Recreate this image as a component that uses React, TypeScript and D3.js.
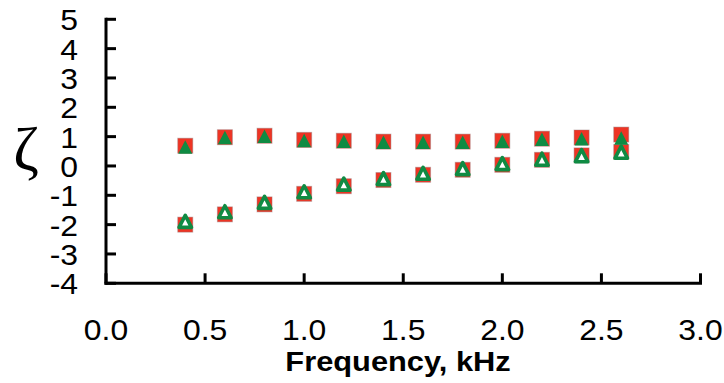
import React from "react";
import * as d3 from "d3";

const frequencies = [0.4, 0.6, 0.8, 1.0, 1.2, 1.4, 1.6, 1.8, 2.0, 2.2, 2.4, 2.6];
const upperSquares = [0.69, 0.98, 1.03, 0.89, 0.86, 0.83, 0.83, 0.83, 0.86, 0.93, 0.97, 1.07];
const upperTriangles = [0.65, 0.97, 1.01, 0.87, 0.84, 0.81, 0.81, 0.81, 0.84, 0.91, 0.93, 0.95];
const lowerSquares = [-2.0, -1.65, -1.31, -0.95, -0.69, -0.48, -0.3, -0.13, 0.04, 0.21, 0.36, 0.48];
const lowerTriangles = [-1.89, -1.56, -1.24, -0.88, -0.62, -0.43, -0.25, -0.09, 0.08, 0.23, 0.35, 0.47];
const xTicks = [0, 0.5, 1.0, 1.5, 2.0, 2.5, 3.0];
const yTicks = [5, 4, 3, 2, 1, 0, -1, -2, -3, -4];

const W = 724;
const H = 383;
const RED = "#EE3424";
const GREEN = "#0F8B43";
const FONT = "'Liberation Sans', Arial, sans-serif";
const SX = 1.1;

export default function App() {
  const x = d3.scaleLinear().domain([0, 3]).range([106, 700.5]);
  const y = d3.scaleLinear().domain([-4, 5]).range([283.3, 19.3]);

  const tri = (cx: number, cy: number, hw: number, h: number) => {
    const p = d3.path();
    p.moveTo(cx, cy - h / 2);
    p.lineTo(cx + hw, cy + h / 2);
    p.lineTo(cx - hw, cy + h / 2);
    p.closePath();
    return p.toString();
  };

  const sq = 15;

  return (
    <div style={{ position: "fixed", left: 0, top: 0, width: W, height: H, background: "#fff" }}>
      <svg width={W} height={H} style={{ display: "block" }}>
        {/* axes */}
        <line x1={x(0)} x2={x(0)} y1={y(5) - 1.5} y2={y(-4) + 1.5} stroke="#000" strokeWidth={3} />
        <line x1={x(0) - 1.5} x2={x(3) + 1.5} y1={y(-4)} y2={y(-4)} stroke="#000" strokeWidth={3} />
        {yTicks.map((t) => (
          <g key={"yt" + t}>
            <line x1={x(0)} x2={x(0) + 10} y1={y(t)} y2={y(t)} stroke="#000" strokeWidth={3} />
            <text
              transform={`translate(78,${y(t) + 11}) scale(${SX},1)`}
              textAnchor="end"
              fontFamily={FONT}
              fontSize={29}
              fill="#000"
            >
              {t}
            </text>
          </g>
        ))}
        {xTicks.map((t) => (
          <g key={"xt" + t}>
            <line x1={x(t)} x2={x(t)} y1={y(-4)} y2={y(-4) - 10} stroke="#000" strokeWidth={3} />
            <text
              transform={`translate(${x(t)},340) scale(${SX},1)`}
              textAnchor="middle"
              fontFamily={FONT}
              fontSize={29}
              fill="#000"
            >
              {t.toFixed(1)}
            </text>
          </g>
        ))}
        <text
          transform={`translate(398,371) scale(1.1,1)`}
          textAnchor="middle"
          fontFamily={FONT}
          fontWeight="bold"
          fontSize={28}
          fill="#000"
        >
          Frequency, kHz
        </text>
        <text
          transform="translate(26,170)"
          textAnchor="middle"
          fontFamily="'Liberation Serif', 'DejaVu Serif', serif"
          fontSize={62}
          fill="#000"
        >
          ζ
        </text>

        {/* squares */}
        {frequencies.map((f, i) => (
          <rect
            key={"us" + i}
            x={x(f) - sq / 2}
            y={y(upperSquares[i]) - sq / 2}
            width={sq}
            height={sq}
            fill={RED}
            stroke="rgba(150,120,120,0.45)"
            strokeWidth={1}
          />
        ))}
        {frequencies.map((f, i) => (
          <rect
            key={"ls" + i}
            x={x(f) - sq / 2}
            y={y(lowerSquares[i]) - sq / 2}
            width={sq}
            height={sq}
            fill={RED}
            stroke="rgba(150,120,120,0.45)"
            strokeWidth={1}
          />
        ))}
        {/* triangles */}
        {frequencies.map((f, i) => (
          <path key={"ut" + i} d={tri(x(f), y(upperTriangles[i]), 7, 13.5)} fill={GREEN} />
        ))}
        {frequencies.map((f, i) => (
          <path
            key={"lt" + i}
            d={tri(x(f), y(lowerTriangles[i]), 6.2, 12)}
            fill="#fff"
            stroke={GREEN}
            strokeWidth={3.6}
            strokeLinejoin="round"
          />
        ))}
      </svg>
    </div>
  );
}
